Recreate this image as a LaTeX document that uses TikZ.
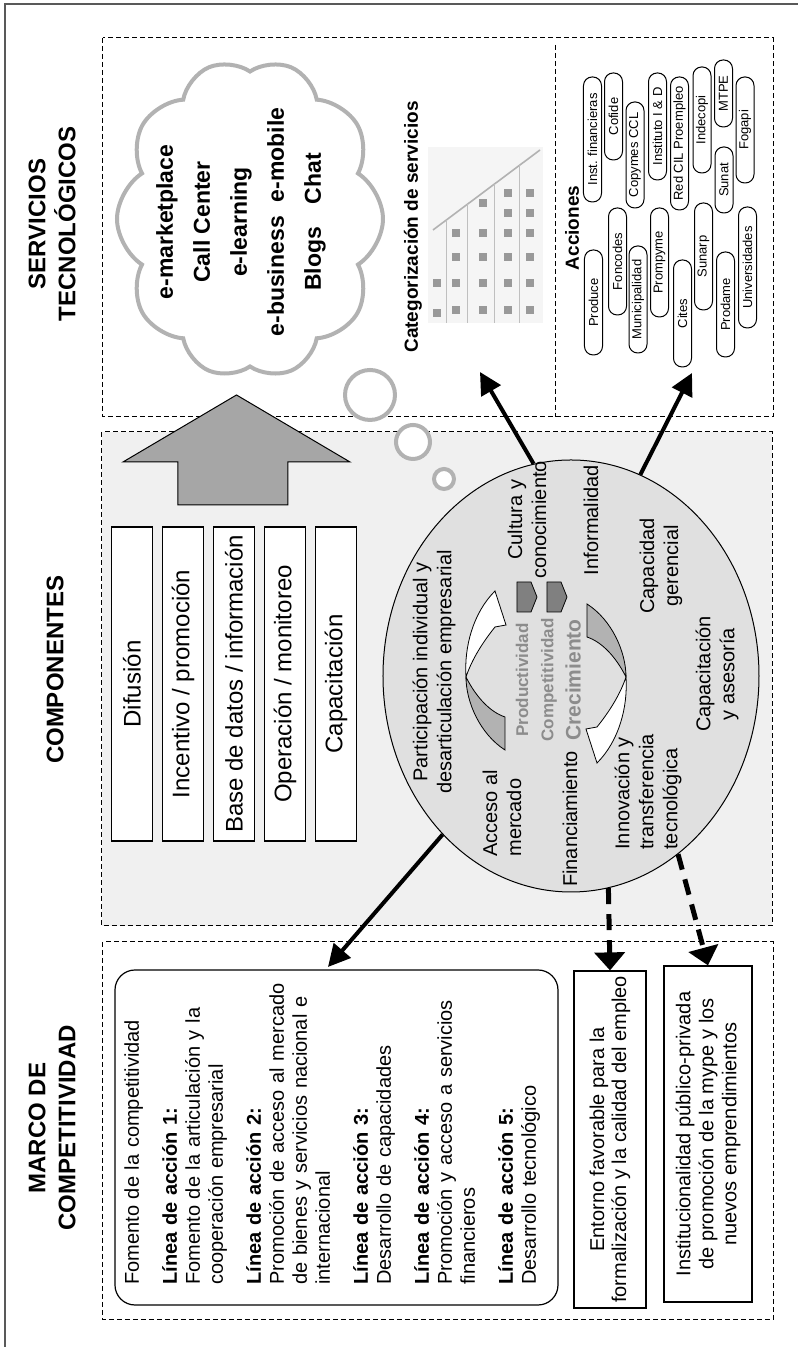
\documentclass[tikz,border=0pt]{standalone}
\usepackage{fontspec}
\setmainfont{Liberation Sans}
\usetikzlibrary{positioning,shapes.geometric,shapes.symbols,arrows.meta}

\tikzset{
  panel/.style={draw, dash pattern=on 2.5pt off 1.5pt, line width=0.5pt},
  titulo/.style={align=center, font=\bfseries\fontsize{12}{15}\selectfont},
  compbox/.style={draw, fill=white, line width=0.6pt, minimum width=157pt, minimum height=20.5pt, inner sep=0pt, font=\fontsize{12}{14}\selectfont},
  caja/.style={draw, fill=white, line width=0.6pt, align=center, inner sep=0pt},
  txt/.style={align=center, inner sep=0pt, font=\fontsize{10}{12}\selectfont},
  txtl/.style={align=left, inner sep=0pt, font=\fontsize{10}{12}\selectfont},
  grisbold/.style={text=black!45, inner sep=0pt, font=\bfseries\fontsize{8.5}{10}\selectfont},
  pill/.style={draw, fill=white, rounded corners=4.3pt, minimum height=9pt, inner sep=0pt, line width=0.5pt, font=\fontsize{6.5}{7}\selectfont},
  burbuja/.style={draw=black!30, line width=2pt, fill=white},
  cinta/.style={draw, line width=0.4pt},
  flecha/.style={line width=2pt, -{Triangle[length=11pt,width=11pt]}},
  flechadash/.style={line width=2.5pt, dash pattern=on 8pt off 5pt, -{Triangle[length=9pt,width=15pt]}},
}

\begin{document}
\begin{tikzpicture}[x=0.5pt, y=0.5pt, rotate=90, transform shape]
\path[use as bounding box] (0,0) -- (1347,0) -- (1347,798) -- (0,798) -- cycle;
\draw[black!65, line width=1pt] (0,793) -- (1343,793) -- (1343,0);

% paneles
\node[panel, minimum width=189pt, minimum height=335pt] (pmarco) at (216,360) {};
\node[panel, fill=black!6, minimum width=247pt, minimum height=335pt] (pcomp) at (668,361) {};
\node[panel, minimum width=189.5pt, minimum height=335pt] (pserv) at (1119.5,360) {};
\draw[panel] (1302,242) -- (930,242);

% titulos
\node[titulo] (tmarco) at (219,746) {MARCO DE\\COMPETITIVIDAD};
\node[titulo] (tcomp) at (677,743) {COMPONENTES};
\node[titulo] (tserv) at (1123,746) {SERVICIOS\\TECNOLÓGICOS};

% marco de competitividad
\node[draw, rounded corners=10pt, line width=0.6pt, minimum width=167.5pt, minimum height=221.5pt] (mbox) at (209.5,461.5) {};
\node[anchor=north west, align=left, text width=165pt, inner sep=0pt, font=\fontsize{10}{11.5}\selectfont] (mtxt) at (62,674) {Fomento de la competitividad\\[7.5pt]
\textbf{Línea de acción 1:}\\
Fomento de la articulación y la\\
cooperación empresarial\\[7.5pt]
\textbf{Línea de acción 2:}\\
Promoción de acceso al mercado\\
de bienes y servicios nacional e\\
internacional\\[7.5pt]
\textbf{Línea de acción 3:}\\
Desarrollo de capacidades\\[7.5pt]
\textbf{Línea de acción 4:}\\
Promoción y acceso a servicios\\
financieros\\[7.5pt]
\textbf{Línea de acción 5:}\\
Desarrollo tecnológico};
\node[caja, minimum width=168.5pt, minimum height=36pt, font=\fontsize{10}{11}\selectfont] (ebox) at (207.5,188) {Entorno favorable para la\\formalización y la calidad del empleo};
\node[caja, minimum width=168pt, minimum height=44pt, font=\fontsize{10}{11.5}\selectfont] (ibox) at (213,90) {Institucionalidad público-privada\\de promoción de la mype y los\\nuevos emprendimientos};

% componentes
\node[compbox] (c1) at (663,666) {Difusión};
\node[compbox] (c2) at (663,615) {Incentivo / promoción};
\node[compbox] (c3) at (663,564) {Base de datos / información};
\node[compbox] (c4) at (663,513) {Operación / monitoreo};
\node[compbox] (c5) at (663,462) {Capacitación};
\draw[fill=black!35, line width=0.5pt] (842,510) -- (885,510) -- (885,448) -- (952,561.5) -- (885,675) -- (885,620) -- (842,620) -- cycle;

% nube de servicios
\node[cloud, cloud puffs=10, cloud puff arc=115, aspect=1.2, draw=black!30, line width=2pt, fill=white, minimum width=159.5pt, minimum height=133pt] (nube) at (1128,548) {};
\node[align=center, font=\bfseries\fontsize{11.5}{18.5}\selectfont] (servlist) at (1125,557) {e-marketplace\\Call Center\\e-learning\\e-business\hspace{7pt}e-mobile\\Blogs\quad Chat};
\draw[burbuja] (952,428) circle[radius=25];
\draw[burbuja] (905,385) circle[radius=17];
\draw[burbuja] (868,354) circle[radius=10];

% elipse
\node[ellipse, draw, fill=black!12, line width=0.5pt, minimum width=216pt, minimum height=188pt] (elip) at (671,227) {};
\foreach \ang in {0,180}{
  \begin{scope}[shift={(670,252)}, rotate=\ang]
    \draw[cinta, fill=black!30] (0,80) .. controls (-25,80) and (-57,66) .. (-73,41) -- (-40,41) .. controls (-35,56) and (-20,70) .. (0,80) -- cycle;
    \draw[cinta, fill=white] (0,80) .. controls (30,82) and (64,73) .. (86,51) -- (52,40) -- (50,51) .. controls (35,63) and (18,74) .. (0,80) -- cycle;
  \end{scope}}
\draw[cinta, fill=black!50] (735,281) -- (765,281) -- (765,267) -- (750,261) -- (735,267) -- cycle;
\draw[cinta, fill=black!50] (735,251) -- (765,251) -- (765,237) -- (750,231) -- (735,237) -- cycle;
\node[txt] (part) at (675,364) {Participación individual y\\desarticulación empresarial};
\node[txtl, anchor=west] (acceso) at (490,296) {Acceso al\\mercado};
\node[txt] (finan) at (528,228) {Financiamiento};
\node[txtl, anchor=west] (innov) at (497,150) {Innovación y\\transferencia\\tecnológica};
\node[txt] (cultura) at (827,271) {Cultura y\\conocimiento};
\node[txt] (informal) at (827,207) {Informalidad};
\node[txt] (gerencia) at (781,137) {Capacidad\\gerencial};
\node[txt] (asesoria) at (673,81) {Capacitación\\y asesoría};
\node[grisbold] (produc) at (667,276) {Productividad};
\node[grisbold] (compet) at (667,249) {Competitividad};
\node[grisbold, font=\bfseries\fontsize{10.5}{12}\selectfont] (crec) at (667,225) {Crecimiento};

% categorizacion de servicios
\node[font=\bfseries\fontsize{9.5}{11}\selectfont] (tcat) at (1120,385) {Categorización de servicios};
\node[fill=black!4, minimum width=88pt, minimum height=57.5pt, inner sep=0pt] (catimg) at (1112,312.5) {};
\draw[black!30, line width=0.8pt] (1117,365) -- (1197,258);
\foreach \yy/\xe in {351/1127, 330/1143, 303/1163, 278/1182}
  \draw[black!25, line width=0.5pt] (1024,\yy) -- (\xe,\yy);
\foreach \yy/\xs in {361/{1064,1034}, 342/{1114,1090,1064,1037}, 315/{1144,1114,1090,1064,1037}, 290/{1154,1134,1114,1090,1064,1037}, 268/{1154,1134,1114,1090,1064,1037}}
  \foreach \xx in \xs
    \fill[black!40] (\xx-4,\yy-4) rectangle (\xx+4,\yy+4);

% acciones
\node[font=\bfseries\fontsize{9.5}{11}\selectfont] (tacc) at (1119,226) {Acciones};
\foreach \xx/\yy/\ww/\lab [count=\i] in {
  1207.5/205.5/62.5/Inst. financieras, 1230.5/184.5/43.5/Cofide,
  1192/163/53/Copymes CCL, 1220.5/140.5/53.5/Instituto I \& D,
  1203.5/118.5/66.5/Red CIL Proempleo, 1227/96/53/Indecopi,
  1253.5/74.5/33.5/MTPE, 1217/53/53/Fogapi, 1167/74/33/Sunat,
  1044.5/204.5/52.5/Produce, 1085.5/180.5/53.5/Foncodes,
  1047.5/160/53.5/Municipalidad, 1084.5/138.5/54.5/Prompyme,
  1033.5/115.5/53.5/Cites, 1090.5/94.5/53.5/Sunarp,
  1042.5/72.5/52.5/Prodame, 1079.5/50.5/60.5/Universidades}
  \node[pill, minimum width=\ww pt] (acc\i) at (\xx,\yy) {\lab};

% conectores
\coordinate (mtip) at (380,470);
\coordinate (catin) at (975,318);
\coordinate (accin) at (974,106);
\draw[flecha] (elip.141) -- (mtip);
\draw[flecha] (elip.10) -- (catin);
\draw[flecha] (elip.-19) -- (accin);
\draw[flechadash] (elip.190) -- (ebox.east);
\draw[flechadash] (elip.211) -- (ibox.east);
\end{tikzpicture}
\end{document}
